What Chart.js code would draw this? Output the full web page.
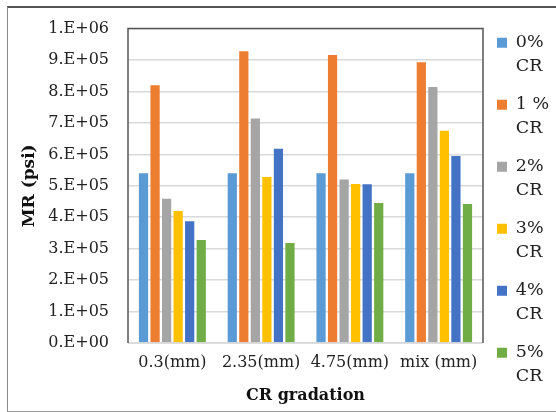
<!DOCTYPE html>
<html>
<head>
<meta charset="utf-8">
<script src="https://cdn.jsdelivr.net/npm/chart.js@4.4.1/dist/chart.umd.min.js"></script>
<style>
  html, body { margin: 0; padding: 0; background: #fff; }
  #wrap { position: relative; width: 556px; height: 412px; overflow: hidden; }
  #frame {
    position: absolute; left: 7px; top: 6px; width: 560px; height: 403px;
    border-top: 2px solid #555; border-left: 1px solid #8a8a8a; border-bottom: 2px solid #9a9a9a;
    pointer-events: none;
  }
</style>
</head>
<body>
<div id="wrap">
  <canvas id="mr-chart"></canvas>
  <div id="frame"></div>
</div>
<script>
'use strict';

// Gradations on the x axis
let gradations = ['0.3(mm)', '2.35(mm)', '4.75(mm)', 'mix (mm)'];

// MR (psi) for each crumb rubber content
let cr0 = [540000, 540000, 540000, 540000];
let cr1 = [820000, 928000, 916000, 893000];
let cr2 = [459000, 714000, 520000, 814000];
let cr3 = [420000, 528000, 506000, 675000];
let cr4 = [387000, 618000, 505000, 595000];
let cr5 = [328000, 318000, 445000, 442000];

let seriesNames = ['0% CR', '1 % CR', '2% CR', '3% CR', '4% CR', '5% CR'];
let seriesColors = ['#5B9BD5', '#ED7D31', '#A5A5A5', '#FFC000', '#4472C4', '#70AD47'];

let yTickLabels = ['0.E+00', '1.E+05', '2.E+05', '3.E+05', '4.E+05', '5.E+05',
  '6.E+05', '7.E+05', '8.E+05', '9.E+05', '1.E+06'];

const serif = 'DejaVu Serif';
const ctx = document.getElementById('mr-chart').getContext('2d');

let allSeries = [cr0, cr1, cr2, cr3, cr4, cr5];
let datasets = [];
for (let i = 0; i < allSeries.length; i++) {
  datasets.push({
    label: seriesNames[i],
    data: allSeries[i],
    backgroundColor: seriesColors[i],
    borderWidth: 0,
    categoryPercentage: 0.78,
    barPercentage: 0.8
  });
}

// plot frame: dark on top and sides, light along the base
const plotFrame = {
  id: 'plotFrame',
  afterDatasetsDraw(chart) {
    const a = chart.chartArea;
    const c = chart.ctx;
    c.save();
    c.lineWidth = 1.5;
    c.strokeStyle = '#d9d9d9';
    c.beginPath();
    c.moveTo(a.left, a.bottom);
    c.lineTo(a.right, a.bottom);
    c.stroke();
    c.strokeStyle = '#555';
    c.beginPath();
    c.moveTo(a.left, a.bottom);
    c.lineTo(a.left, a.top);
    c.lineTo(a.right, a.top);
    c.lineTo(a.right, a.bottom);
    c.stroke();
    c.restore();
  }
};

// eslint-disable-next-line no-unused-vars
const myChart = new Chart(ctx, {
  type: 'bar',
  data: {
    labels: gradations,
    datasets: datasets
  },
  plugins: [plotFrame],
  options: {
    responsive: true,
    maintainAspectRatio: false,
    animation: false,
    layout: { padding: { top: 20, left: 0, right: 0, bottom: 0 } },
    plugins: {
      tooltip: { enabled: false },
      // empty spacer so the plot starts a little below the legend
      title: {
        display: true,
        text: '',
        fullSize: false,
        font: { size: 8, lineHeight: 1 },
        padding: 0
      },
      legend: {
        position: 'right',
        align: 'start',
        maxWidth: 73,
        labels: {
          boxWidth: 10,
          boxHeight: 10,
          padding: 14,
          color: '#222',
          font: { family: serif, size: 17.5, lineHeight: '24px' },
          generateLabels(chart) {
            let items = Chart.defaults.plugins.legend.labels.generateLabels(chart);
            items.forEach(item => {
              item.text = [item.text.slice(0, -3), 'CR'];
              item.lineWidth = 0;
            });
            return items;
          }
        }
      }
    },
    scales: {
      x: {
        grid: { display: false, drawTicks: false },
        border: { display: false },
        ticks: { color: '#222', padding: 10, font: { family: serif, size: 16 } },
        title: {
          display: true,
          text: 'CR gradation',
          color: '#111',
          font: { family: serif, size: 16, weight: 'bold' },
          padding: { top: 0, bottom: 7 }
        },
        afterFit(scale) { scale.height = 69; }
      },
      y: {
        min: 0,
        max: 1000000,
        grid: { color: '#d9d9d9', lineWidth: 1.5, drawTicks: false },
        border: { display: false },
        ticks: {
          stepSize: 100000,
          color: '#222',
          padding: 19,
          font: { family: serif, size: 16 },
          callback: (value, index) => yTickLabels[index]
        },
        title: {
          display: true,
          text: 'MR (psi)',
          color: '#111',
          font: { family: serif, size: 17, weight: 'bold' },
          padding: { top: 19, bottom: 0 }
        },
        afterFit(scale) { scale.width = 128; }
      }
    }
  }
});
</script>
</body>
</html>
